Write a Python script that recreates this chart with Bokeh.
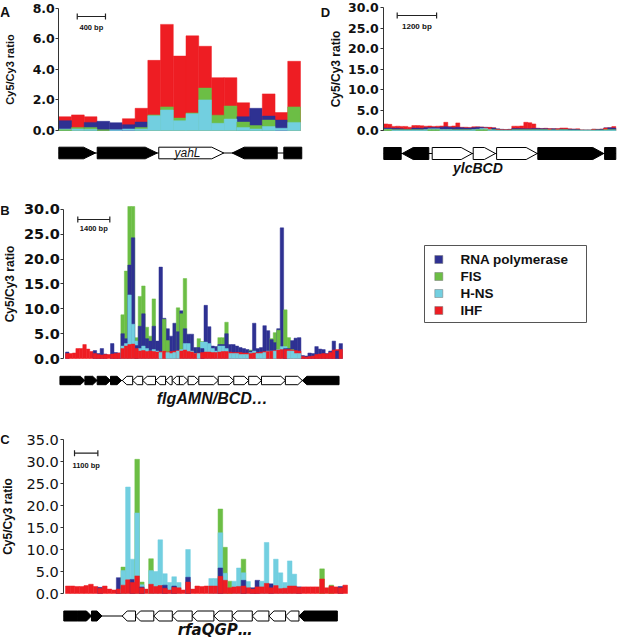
import numpy as np
from bokeh.plotting import figure
from bokeh.models import Range1d, FixedTicker, PrintfTickFormatter, Label, ColumnDataSource
from bokeh.layouts import column, row
from bokeh.embed import file_html
from bokeh.resources import INLINE
from bokeh.core.properties import value

# ---------------- data ----------------
SERIES = ["RNA polymerase", "FIS", "H-NS", "IHF"]
COLORS = ["#2E3192", "#6CBE45", "#72CFE0", "#EE1D23"]
Y_LABEL = "Cy5/Cy3 ratio"

# Panel A (yahL region), 19 probe bins
A_rnap = [0.64, 0.00, 0.53, 0.60, 0.51, 0.38, 0.55, 0.00, 0.00, 0.00, 0.00, 0.00, 0.00, 0.00, 0.90, 1.45, 0.94, 0.68, 0.00]
A_fis  = [0.05, 0.20, 0.20, 0.05, 0.00, 0.00, 0.20, 1.02, 1.54, 0.81, 1.15, 2.77, 1.00, 1.60, 0.55, 0.32, 0.68, 0.00, 1.54]
A_hns  = [0.10, 0.10, 0.08, 0.00, 0.05, 0.10, 0.10, 0.96, 1.34, 0.64, 1.10, 2.00, 0.47, 0.75, 0.20, 0.10, 0.26, 0.15, 0.53]
A_ihf  = [0.90, 1.02, 0.90, 0.00, 0.00, 0.77, 1.45, 4.58, 6.93, 4.86, 6.18, 5.50, 3.45, 3.45, 1.81, 0.00, 2.39, 1.17, 4.52]
A_ticks = [0, 2, 4, 6, 8]
A_gene_start = [0.0, 3.02, 7.86, 13.63, 17.69]
A_gene_end   = [2.89, 7.74, 12.97, 17.17, 19.1]
A_gene_dir   = [1, 1, 1, -1, 0]
A_gene_kind  = ["flank", "flank", "operon", "flank", "flank"]
A_gene_name  = "yahL"
A_scale = (1.45, 2.22, "400 bp")

# Panel D (ylcBCD region), 58 probe bins
D_rnap = [0.6, 0.6, 0.55, 0.55, 0.4, 0.3, 0.3, 0.6, 0.6, 0.55, 0.7, 0.7, 0.75, 0.7, 0.8, 0.9, 0.8, 0.7, 0.8, 0.7,
          0.6, 0.6, 0.7, 0.8, 0.8, 0.8, 0.75, 0.6, 0.4, 0.3, 0.25, 0.3, 0.5, 0.5, 0.45, 0.4, 0.4, 0.5, 0.5, 0.45,
          0.45, 0.45, 0.4, 0.4, 0.35, 0.3, 0.3, 0.3, 0.25, 0.15, 0.15, 0.15, 0.3, 0.25, 0.3, 0.65, 0.65, 0.6]
D_fis  = [0.25, 0.25, 0.2, 0.2, 0.2, 0.2, 0.2, 0.2, 0.2, 0.2, 0.2, 0.2, 0.2, 0.2, 0.2, 0.2, 0.2, 0.2, 0.2, 0.2,
          0.2, 0.2, 0.2, 0.2, 0.2, 0.2, 0.2, 0.2, 0.1, 0.05, 0.05, 0.05, 0.2, 0.2, 0.2, 0.2, 0.2, 0.2, 0.2, 0.2,
          0.2, 0.15, 0.15, 0.15, 0.2, 0.2, 0.1, 0.1, 0.1, 0.05, 0.05, 0.05, 0.1, 0.1, 0.1, 0.2, 0.2, 0.2]
D_hns  = [0.3, 0.3, 0.1, 0.1, 0.1, 0.1, 0.1, 0.1, 0.1, 0.1, 0.2, 0.4, 0.4, 0.4, 0.2, 0.2, 0.2, 0.1, 0.1, 0.1,
          0.1, 0.1, 0.2, 0.3, 0.5, 0.5, 0.2, 0.1, 0.05, 0.05, 0.05, 0.05, 0.1, 0.1, 0.1, 0.1, 0.1, 0.1, 0.1, 0.1,
          0.1, 0.1, 0.1, 0.1, 0.1, 0.1, 0.05, 0.05, 0.05, 0.05, 0.05, 0.05, 0.05, 0.05, 0.05, 0.1, 0.1, 0.1]
D_ihf  = [1.6, 1.5, 1.0, 1.05, 1.0, 1.0, 0.8, 1.2, 1.2, 1.15, 1.05, 1.1, 1.0, 1.05, 1.1, 2.0, 1.0, 1.1, 1.85, 0.8,
          0.8, 0.75, 0.9, 0.9, 0.85, 0.7, 0.75, 0.7, 0.3, 0.2, 0.2, 0.2, 1.05, 1.05, 1.1, 2.0, 1.9, 1.6, 0.55, 0.5,
          0.55, 0.4, 0.45, 0.4, 0.6, 0.6, 0.4, 0.35, 0.4, 0.15, 0.1, 0.1, 0.3, 0.3, 0.35, 0.6, 0.7, 0.95]
D_ticks = [0, 5, 10, 15, 20, 25, 30]
D_gene_start = [0.0, 4.6, 12.1, 22.35, 28.2, 38.5, 55.2]
D_gene_end   = [4.35, 11.25, 22.1, 27.9, 38.35, 55.0, 58.0]
D_gene_dir   = [0, -1, 1, 1, 1, 1, 0]
D_gene_kind  = ["flank", "flank", "operon", "operon", "operon", "flank", "flank"]
D_operon = "ylcBCD"
D_scale = (3.35, 9.85, "1200 bp")

# Panel B (flgAMN/BCD... region), 80 probe bins
B_rnap = [1.3, 0, 0, 0, 0, 0, 0, 0, 1.6, 1.0, 2.0, 0.9, 0, 3.0, 1.2, 1.1, 5.0, 4.0, 18.8, 24.3,
          2.6, 6.5, 9.0, 4.0, 3.5, 6.5, 3.5, 18.4, 8.1, 6.0, 4.5, 7.1, 5.4, 9.6, 6.0, 4.9, 4.9, 2.2, 2.2, 2.0,
          10.7, 6.4, 2.5, 2.4, 2.8, 2.8, 5.0, 2.8, 2.8, 2.5, 2.2, 2.0, 1.8, 1.5, 7.1, 2.0, 2.2, 6.6, 5.6, 3.8,
          3.2, 6.0, 26.3, 2.0, 2.0, 3.6, 4.1, 4.2, 0.6, 0.5, 1.1, 1.0, 2.4, 1.9, 1.8, 1.0, 1.5, 3.5, 1.5, 3.0]
B_fis  = [0, 0, 0, 0, 0, 0, 0, 0, 0, 0, 0, 0, 0, 0, 0, 0, 8.8, 17.6, 30.6, 30.6,
          4.2, 12.5, 14.6, 6.3, 4.5, 12.0, 0, 0, 7.9, 3.6, 0, 0, 10.2, 9.0, 16.1, 0, 0, 0, 4.0, 3.4,
          0, 0, 0, 0, 4.2, 4.2, 7.3, 0, 0, 0, 0, 0, 0, 1.7, 0, 0, 0, 0, 0, 4.0,
          5.2, 5.7, 0, 9.8, 4.2, 1.8, 0, 0, 0, 0, 0, 0, 0, 0, 0, 0, 0, 0, 0, 0]
B_hns  = [0, 0, 0, 0, 0, 0, 0, 0, 0, 0, 0, 0, 0, 0, 0, 0, 2.5, 3.0, 12.8, 6.9,
          3.5, 2.0, 2.5, 2.0, 1.5, 1.8, 1.5, 1.2, 1.5, 1.2, 1.0, 1.2, 1.5, 1.8, 3.0, 3.0, 1.5, 1.0, 1.0, 3.3,
          3.3, 3.0, 2.0, 1.5, 2.5, 2.5, 2.0, 1.0, 1.0, 1.0, 0.8, 0.8, 0.8, 1.2, 1.5, 1.0, 1.0, 1.2, 1.5, 1.5,
          1.5, 1.8, 2.4, 2.4, 1.5, 1.5, 1.0, 1.0, 0, 0, 0, 0, 0, 0, 0, 0, 0, 0, 0, 0]
B_ihf  = [1.0, 1.0, 1.1, 2.0, 2.0, 2.8, 1.9, 1.4, 1.0, 0.8, 0.7, 0.8, 0.8, 0.9, 1.0, 1.1, 2.0, 2.5, 2.8, 2.9,
          2.0, 1.5, 1.6, 1.4, 1.5, 1.4, 1.3, 1.4, 1.5, 1.3, 1.4, 1.5, 1.6, 1.5, 1.7, 1.4, 1.3, 1.0, 1.1, 1.2,
          1.3, 1.3, 1.2, 1.2, 1.3, 1.4, 1.4, 1.3, 1.2, 1.2, 1.2, 1.1, 1.1, 1.0, 1.1, 1.2, 1.3, 1.4, 1.4, 1.5,
          1.6, 1.7, 1.8, 1.8, 1.8, 1.7, 1.6, 1.5, 0.4, 0.3, 0.4, 0.5, 0.8, 0.9, 1.0, 0.9, 1.2, 1.7, 1.8, 1.8]
B_ticks = [0, 5, 10, 15, 20, 25, 30]
B_gene_start = [-1.6, 1.44, 5.6, 9.15, 13.0, 16.4, 19.4, 22.3, 26.0, 28.9, 30.8, 32.9, 35.4, 38.5, 44.1, 48.6, 52.9, 56.6, 63.5, 68.4]
B_gene_end   = [1.44, 5.6, 9.15, 13.0, 16.2, 19.4, 22.3, 26.0, 28.9, 30.8, 32.9, 35.4, 38.5, 44.1, 48.6, 52.9, 56.6, 63.5, 68.4, 79.0]
B_gene_dir   = [0, 1, 1, 1, 1, -1, -1, -1, -1, -1, -1, 1, 1, 1, 1, 1, 1, 1, 1, -1]
B_gene_kind  = ["flank"] * 5 + ["operon"] * 14 + ["flank"]
B_operon = "flgAMN/BCD\u2026"
B_scale = (3.55, 9.25, "1400 bp")

# Panel C (rfaQGP... region), 61 probe bins
C_rnap = [0, 0, 0, 0, 0, 0, 0, 1.4, 0, 0, 0, 3.6, 0, 0, 3.2, 0, 1.5, 0, 0, 0,
          0, 1.9, 0, 1.7, 0, 0, 3.7, 0, 0, 0, 0, 0, 0, 5.8, 0, 0, 0, 0, 3.0, 0,
          1.3, 3.0, 0, 0, 2.2, 0, 0, 0, 0, 0, 1.5, 0, 0, 0, 0, 0, 0, 0, 0, 1.6, 0]
C_fis  = [0, 0, 0, 0, 0, 0, 0, 0, 0, 0, 0, 0, 6.0, 0, 0, 30.5, 2.6, 0, 7.9, 0,
          0, 0, 0, 0, 0, 0, 0, 0, 0, 0, 0, 0, 0, 19.2, 10.5, 2.8, 0, 0, 7.8, 0,
          0, 0, 0, 0, 0, 0, 0, 0, 0, 0, 0, 0, 0, 0, 0, 5.6, 0, 1.9, 0, 0, 0]
C_hns  = [0, 0, 0, 0, 0, 0, 0, 0, 0, 0, 0, 0, 5.2, 24.2, 7.8, 18.3, 2.0, 0, 5.2, 5.0,
          12.2, 4.5, 2.5, 3.8, 2.5, 0, 10.0, 0, 0, 0, 0, 3.4, 3.4, 13.8, 4.6, 0, 2.8, 5.8, 4.7, 2.7,
          0, 0, 2.8, 11.6, 0, 7.8, 4.7, 2.5, 7.4, 4.4, 0, 0, 0, 0, 0, 0, 0, 0, 0, 0, 0]
C_ihf  = [1.7, 1.7, 1.6, 1.6, 1.8, 2.1, 1.6, 1.2, 1.7, 1.0, 0.8, 1.0, 1.9, 3.1, 2.5, 4.0, 1.3, 1.0, 2.1, 1.6,
          1.8, 1.2, 0.8, 1.4, 1.3, 0.8, 2.6, 1.0, 1.7, 1.6, 1.7, 1.7, 1.7, 3.9, 3.0, 1.3, 1.5, 1.6, 1.7, 1.3,
          1.0, 1.5, 1.5, 2.3, 1.3, 1.8, 1.1, 1.2, 1.7, 1.7, 1.4, 1.5, 1.5, 1.5, 1.5, 3.3, 1.3, 1.7, 1.5, 1.3, 1.9]
C_ticks = [0, 5, 10, 15, 20, 25, 30, 35]
C_gene_start = [-0.37, 2.53, 5.62, 12.26, 15.14, 19.1, 23.1, 27.4, 32.1, 36.05, 40.4, 44.0, 47.6, 50.5]
C_gene_end   = [2.53, 5.62, 7.9, 15.14, 19.1, 23.1, 27.4, 32.1, 36.05, 40.4, 44.0, 47.6, 50.5, 58.8]
C_gene_dir   = [0, 1, 1, -1, -1, -1, -1, -1, -1, -1, -1, -1, -1, -1]
C_gene_kind  = ["flank"] * 3 + ["operon"] * 10 + ["flank"]
C_operon = "rfaQGP\u2026"
C_scale = (1.95, 5.05, "1100 bp")

SANS = "Liberation Sans"
INK = "#111111"


# ---------------- helpers ----------------
class Panel:
    """Figure whose frame fills the whole canvas; the y axis sits at a fixed data x."""

    def __init__(self, w, h, x0, ppx, y0, ppy, ticks, axis_x, tick_font, tick_size, tick_style,
                 tick_standoff, label_size, label_standoff):
        self.x0, self.ppx, self.y0, self.ppy = x0, ppx, y0, ppy
        xr = (-x0 / ppx, (w - x0) / ppx)
        yr = (-(h - y0) / ppy, y0 / ppy)
        p = figure(width=w, height=h, x_range=Range1d(*xr), y_range=Range1d(*yr),
                   output_backend="svg", toolbar_location=None, title=None,
                   x_axis_location=None, y_axis_location="left",
                   min_border_left=0, min_border_right=0, min_border_top=0, min_border_bottom=0)
        p.outline_line_color = None
        p.grid.visible = False
        ax = p.yaxis[0]
        ax.fixed_location = axis_x
        ax.ticker = FixedTicker(ticks=ticks)
        ax.formatter = PrintfTickFormatter(format="%.1f")
        ax.bounds = (0, ticks[-1])
        ax.major_tick_out = 3
        ax.major_tick_in = 0
        ax.minor_tick_line_color = None
        ax.axis_line_color = "#333333"
        ax.major_tick_line_color = "#333333"
        ax.major_label_text_font = tick_font
        ax.major_label_text_font_size = tick_size
        ax.major_label_text_font_style = tick_style
        ax.major_label_text_color = INK
        ax.major_label_standoff = tick_standoff
        ax.axis_label = Y_LABEL
        ax.axis_label_text_font = SANS
        ax.axis_label_text_font_style = "bold"
        ax.axis_label_text_font_size = label_size
        ax.axis_label_text_color = INK
        ax.axis_label_standoff = label_standoff
        self.p = p

    def dx(self, px):
        return (px - self.x0) / self.ppx

    def dy(self, py):
        return (self.y0 - py) / self.ppy

    def bars(self, series):
        vals = np.array(series, dtype=float)
        n = vals.shape[1]
        order = np.argsort(-vals, axis=0, kind="stable")
        cols = np.arange(n)
        for rank in range(vals.shape[0]):
            idx = order[rank]
            top = vals[idx, cols]
            m = top > 0
            src = ColumnDataSource(dict(left=cols[m], right=cols[m] + 1, top=top[m],
                                        color=[COLORS[k] for k in idx[m]]))
            self.p.quad(left="left", right="right", bottom=0, top="top", source=src,
                        fill_color="color", line_color="color", line_width=0.5)

    def genes(self, starts, ends, dirs, kinds, yc_px, hh_px, head_px):
        yc = self.dy(yc_px)
        hh = hh_px / self.ppy
        head = head_px / self.ppx
        xs, ys = [], []
        for s, e, d in zip(starts, ends, dirs):
            hl = min(head, 0.7 * (e - s))
            if d > 0:
                xs.append([s, e - hl, e, e - hl, s])
                ys.append([yc - hh, yc - hh, yc, yc + hh, yc + hh])
            elif d < 0:
                xs.append([e, s + hl, s, s + hl, e])
                ys.append([yc - hh, yc - hh, yc, yc + hh, yc + hh])
            else:
                xs.append([s, e, e, s])
                ys.append([yc - hh, yc - hh, yc + hh, yc + hh])
        self.p.line([min(starts), max(ends)], [yc, yc], line_color="black", line_width=1)
        fills = ["white" if k == "operon" else "black" for k in kinds]
        self.p.patches(xs, ys, fill_color=fills, line_color="black", line_width=1)

    def text(self, x, py, txt, font, style, size, color=INK):
        self.p.text(x=[x], y=[self.dy(py)], text=[txt], text_font=value(font), text_font_style=style,
                    text_font_size=size, text_align="center", text_baseline="middle", text_color=color)

    def scale(self, scale, py, label_py, size):
        x0, length, txt = scale
        x1 = x0 + length
        y = self.dy(py)
        cap = 3.0 / self.ppy
        self.p.segment(x0=[x0, x0, x1], y0=[y, y - cap, y - cap], x1=[x1, x0, x1], y1=[y, y + cap, y + cap],
                       line_color="#222222", line_width=1.2)
        self.text(x0 + length / 2, label_py, txt, SANS, "bold", size)

    def letter(self, txt, px, py, size):
        self.p.add_layout(Label(x=self.dx(px), y=self.dy(py), text=txt, text_font=SANS,
                                text_font_style="bold", text_font_size=size, text_align="center",
                                text_baseline="middle", text_color=INK))


def operon_center(starts, ends, kinds):
    s = [a for a, k in zip(starts, kinds) if k == "operon"]
    e = [b for b, k in zip(ends, kinds) if k == "operon"]
    return (min(s) + max(e)) / 2.0


# ---------------- panel A ----------------
A = Panel(330, 180, 58.3, 12.72, 130, 15.3125, A_ticks, 0.0,
          "DejaVu Sans", "12.5px", "bold", 1, "11px", 13)
A.bars([A_rnap, A_fis, A_hns, A_ihf])
A.genes(A_gene_start, A_gene_end, A_gene_dir, A_gene_kind, 152.5, 5.8, 12)
A.text(operon_center(A_gene_start, A_gene_end, A_gene_kind) - 0.3, 152.5, A_gene_name, SANS, "italic", "12px")
A.scale(A_scale, 16, 27, "7.5px")
A.letter("A", 4.5, 11, "14px")
A.letter("D", 325, 12, "13px")

# ---------------- panel D ----------------
D = Panel(287, 180, 53.3, 4.0, 130, 4.1, D_ticks, 0.0,
          "DejaVu Sans", "12.5px", "bold", 2, "12px", 2)
D.bars([D_rnap, D_fis, D_hns, D_ihf])
D.genes(D_gene_start, D_gene_end, D_gene_dir, D_gene_kind, 153, 6, 11)
D.text(operon_center(D_gene_start, D_gene_end, D_gene_kind) - 1.7, 167, D_operon, SANS, "bold italic", "14px")
D.scale(D_scale, 15, 26, "8px")

# ---------------- panel B ----------------
B = Panel(380, 240, 65, 3.4625, 178, 4.967, B_ticks, -0.5,
          "DejaVu Sans", "14.5px", "bold", 1, "12px", 4)
B.bars([B_rnap, B_fis, B_hns, B_ihf])
B.genes(B_gene_start, B_gene_end, B_gene_dir, B_gene_kind, 200, 4.2, 4.5)
B.text(operon_center(B_gene_start, B_gene_end, B_gene_kind), 218, B_operon, SANS, "bold italic", "16px")
B.scale(B_scale, 39, 48.3, "7.5px")
B.letter("B", 4.5, 30, "13px")

# ---------------- legend ----------------
pL = figure(width=237, height=240, x_range=Range1d(0, 237), y_range=Range1d(240, 0),
            output_backend="svg", toolbar_location=None, title=None,
            x_axis_location=None, y_axis_location=None,
            min_border_left=0, min_border_right=0, min_border_top=0, min_border_bottom=0)
pL.outline_line_color = None
pL.grid.visible = False
ly = 79 + 17 * np.arange(len(SERIES))
pL.quad(left=[44], right=[206], top=[65], bottom=[142], fill_color=None,
        line_color="#555555", line_width=1)
pL.rect(x=[58.3] * len(SERIES), y=ly, width=8, height=8, width_units="screen", height_units="screen",
        fill_color=COLORS, line_color="#777777", line_width=0.5)
pL.text(x=[80] * len(SERIES), y=ly, text=SERIES, text_font=value(SANS), text_font_style="bold",
        text_font_size="13.5px", text_align="left", text_baseline="middle", text_color=INK)

# ---------------- panel C ----------------
C = Panel(617, 220, 65, 4.623, 173, 4.4, C_ticks, -0.37,
          "DejaVu Sans", "14.5px", "normal", 2, "12px", 8)
C.bars([C_rnap, C_fis, C_hns, C_ihf])
C.genes(C_gene_start, C_gene_end, C_gene_dir, C_gene_kind, 195.5, 5, 5)
C.text(operon_center(C_gene_start, C_gene_end, C_gene_kind) + 1.0, 209.5, C_operon, "DejaVu Sans", "bold italic", "15px")
C.scale(C_scale, 32.7, 45, "7.5px")
C.letter("C", 4.5, 19, "13px")

layout = column(row(A.p, D.p), row(B.p, pL), C.p)
open("out.html", "w").write(file_html(layout, INLINE))
